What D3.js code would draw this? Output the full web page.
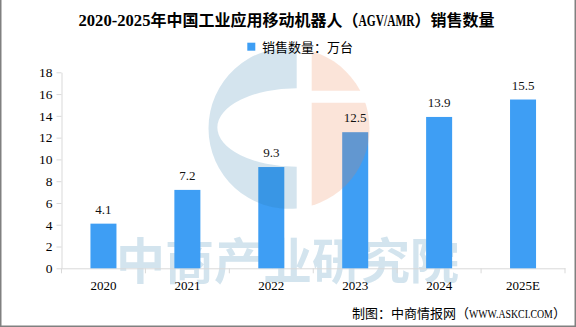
<!DOCTYPE html>
<html>
<head>
<meta charset="utf-8">
<script src="https://cdn.jsdelivr.net/npm/d3@7/dist/d3.min.js"></script>
<style>
  html, body { margin: 0; padding: 0; background: #fff; }
  svg { display: block; }
</style>
</head>
<body>
<div id="chart"></div>
<script>
// ---- data ----
const categories = ["2020", "2021", "2022", "2023", "2024", "2025E"];
const sales = [4.1, 7.2, 9.3, 12.5, 13.9, 15.5];
const yTicks = [0, 2, 4, 6, 8, 10, 12, 14, 16, 18];
const seriesName = "销售数量：万台";
const titleParts = [
  { t: "2020-2025", latin: true, w: 72 },
  { t: "年中国工业应用移动机器人（" },
  { t: "AGV/AMR", latin: true, w: 56 },
  { t: "）销售数量" }
];
const footerParts = [
  { t: "制图：中商情报网（" },
  { t: "WWW.ASKCI.COM", latin: true, w: 84 },
  { t: "）" }
];
const watermarkText = "中商产业研究院";

// ---- setup ----
const W = 576, H = 327;
const barColor = "#3e9ef4";
const axisColor = "#d9d9d9";
const cjk = "'Noto Sans CJK SC', 'Noto Sans', sans-serif";
const serif = "'Liberation Serif', 'DejaVu Serif', serif";

const svg = d3.select("#chart").append("svg")
  .attr("width", W).attr("height", H);

svg.append("rect").attr("width", W).attr("height", H).attr("fill", "#fff");

const x = d3.scaleBand().domain(categories).range([61.5, 565])
  .paddingInner(0.69).paddingOuter(0.345);
const y = d3.scaleLinear().domain([0, 18]).range([268.3, 72.3]);

// watermark text (behind bars)
svg.append("text")
  .attr("x", 287.5).attr("y", 257.5)
  .attr("text-anchor", "middle")
  .attr("dominant-baseline", "central")
  .attr("font-family", cjk)
  .attr("font-weight", 700)
  .attr("font-size", 49)
  .attr("fill", "#d3e4ee")
  .text(watermarkText);

// y axis
const yAxis = svg.append("g").attr("transform", `translate(${61.5},0)`)
  .call(d3.axisLeft(y).tickValues(yTicks).tickSize(5).tickSizeOuter(0).tickPadding(4));
yAxis.select(".domain").attr("stroke", axisColor);
yAxis.selectAll(".tick line").attr("stroke", axisColor);
yAxis.selectAll(".tick text")
  .attr("font-family", serif).attr("font-size", 13.5).attr("fill", "#000");

// x axis
const step = x.step();
const xAxis = svg.append("g").attr("transform", `translate(0,${y(0)})`)
  .call(d3.axisBottom(x).tickSize(0).tickSizeOuter(0).tickPadding(12));
xAxis.select(".domain").attr("stroke", axisColor);
xAxis.selectAll(".tick text")
  .attr("font-family", serif).attr("font-size", 13).attr("fill", "#000");
// boundary ticks
const bounds = categories.map(c => x(c) - (step - x.bandwidth()) / 2)
  .concat([x(categories[categories.length - 1]) + x.bandwidth() + (step - x.bandwidth()) / 2]);
xAxis.selectAll(".btick").data(bounds).enter().append("line")
  .attr("class", "btick")
  .attr("x1", d => d).attr("x2", d => d)
  .attr("y1", 0).attr("y2", 5)
  .attr("stroke", axisColor);

// bars
svg.append("g").selectAll("rect").data(sales).enter().append("rect")
  .attr("x", (d, i) => x(categories[i]))
  .attr("y", d => y(d))
  .attr("width", x.bandwidth())
  .attr("height", d => y(0) - y(d))
  .attr("fill", barColor);

// logo watermark overlay
const cx = 289, cy = 128.3, r = 80.5;
const bx = 296.7;
const bdy = Math.sqrt(r * r - (bx - cx) * (bx - cx));
const logoBlue = `M${bx},${cy - bdy} A${r},${r} 0 1 0 ${bx},${cy + bdy} L${bx},166.7 A79.4,39.2 0 0 1 ${bx},88.3 Z`;
svg.append("path").attr("d", logoBlue)
  .attr("fill", "rgb(40,120,170)").attr("fill-opacity", 0.2);
const defs = svg.append("defs");
const cp = defs.append("clipPath").attr("id", "peachClip");
cp.append("rect").attr("x", 311.7).attr("y", 30).attr("width", 80).attr("height", 90.7 - 30);
cp.append("rect").attr("x", 311.7).attr("y", 102.7).attr("width", 80).attr("height", 120);
svg.append("circle").attr("cx", cx).attr("cy", cy).attr("r", r)
  .attr("clip-path", "url(#peachClip)")
  .attr("fill", "rgb(236,127,77)").attr("fill-opacity", 0.21);

// value labels
svg.append("g").selectAll("text").data(sales).enter().append("text")
  .attr("x", (d, i) => x(categories[i]) + x.bandwidth() / 2)
  .attr("y", d => y(d) - 10)
  .attr("text-anchor", "middle")
  .attr("font-family", serif).attr("font-size", 13)
  .attr("fill", "#111")
  .text(d => d.toFixed(1));

// segmented text helper (latin runs squeezed to half-width cells like SimSun)
function drawParts(parts, startX, baseY, size, weight, anchorRight) {
  const g = svg.append("g");
  let cur = 0;
  parts.forEach(p => {
    const t = g.append("text")
      .attr("x", 0).attr("y", 0)
      .attr("font-size", size)
      .attr("font-weight", weight)
      .attr("fill", "#000")
      .attr("font-family", p.latin ? serif : cjk)
      .text(p.t);
    const nat = t.node().getComputedTextLength();
    if (p.latin) {
      t.attr("transform", `translate(${cur},${baseY}) scale(${p.w / nat},1)`);
      cur += p.w;
    } else {
      t.attr("transform", `translate(${cur},${baseY})`);
      cur += nat;
    }
  });
  const offset = anchorRight ? startX - cur : startX;
  g.attr("transform", `translate(${offset},0)`);
  return cur;
}

// title
drawParts(titleParts, 78.5, 26, 16, 700, false);

// legend
svg.append("rect").attr("x", 247.3).attr("y", 42.7).attr("width", 8).attr("height", 8)
  .attr("fill", barColor);
svg.append("text").attr("x", 262).attr("y", 46.3)
  .attr("dominant-baseline", "central")
  .attr("font-family", cjk).attr("font-size", 13).attr("fill", "#000")
  .text(seriesName);

// footer
drawParts(footerParts, 566, 317.5, 13, 400, true);

// border
svg.append("rect").attr("x", 0.75).attr("y", -5).attr("width", W - 1.5).attr("height", 331.25)
  .attr("fill", "none").attr("stroke", "#808080").attr("stroke-width", 1.5);
</script>
</body>
</html>
